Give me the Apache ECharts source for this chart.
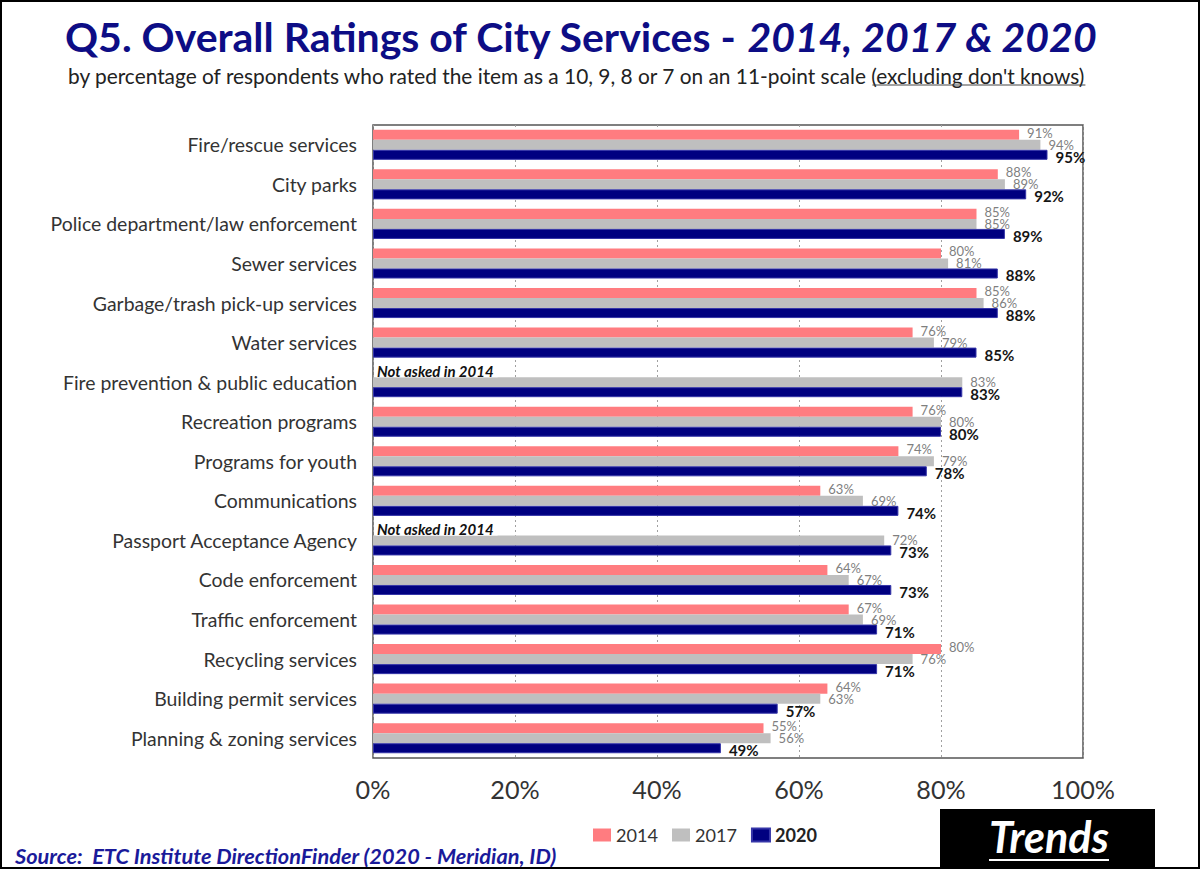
<!DOCTYPE html>
<html>
<head>
<meta charset="utf-8">
<script src="https://cdn.jsdelivr.net/npm/echarts@6/dist/echarts.min.js"></script>
<style>html,body{margin:0;padding:0;background:#fff;}#c{width:1204px;height:872px;}</style>
</head>
<body>
<div id="c"></div>
<script>
const categories = [
  'Fire/rescue services',
  'City parks',
  'Police department/law enforcement',
  'Sewer services',
  'Garbage/trash pick-up services',
  'Water services',
  'Fire prevention & public education',
  'Recreation programs',
  'Programs for youth',
  'Communications',
  'Passport Acceptance Agency',
  'Code enforcement',
  'Traffic enforcement',
  'Recycling services',
  'Building permit services',
  'Planning & zoning services'
];
const s2014 = [91, 88, 85, 80, 85, 76, null, 76, 74, 63, null, 64, 67, 80, 64, 55];
const s2017 = [94, 89, 85, 81, 86, 79, 83, 80, 79, 69, 72, 67, 69, 76, 63, 56];
const s2020 = [95, 92, 89, 88, 88, 85, 83, 80, 78, 74, 73, 73, 71, 71, 57, 49];
const seriesNames = ['2014', '2017', '2020'];
const xTicks = [0, 20, 40, 60, 80, 100];

const FAMILY = 'Lato, "Open Sans", sans-serif';
const mctx = document.createElement('canvas').getContext('2d');
function measure(text, weight, style, size) {
  mctx.font = style + ' ' + weight + ' ' + size + 'px ' + FAMILY;
  return mctx.measureText(text).width;
}
function fit(text, weight, style, width) {
  return 100 * width / measure(text, weight, style, 100);
}

const titleA = 'Q5. Overall Ratings of City Services - ';
const titleB = '2014, 2017 & 2020';
const titleSize = 100 * 1032 / (measure(titleA, 'bold', 'normal', 100) + measure(titleB, 'bold', 'italic', 100));
const subA = 'by percentage of respondents who rated the item as a 10, 9, 8 or 7 on an 11-point scale ';
const subB = "(excluding don't knows)";
const subSize = fit(subA + subB, 'normal', 'normal', 1018);
const subAW = measure(subA, 'normal', 'normal', subSize);
const subBW = measure(subB, 'normal', 'normal', subSize);
const catSize = fit('Police department/law enforcement', 'normal', 'normal', 307);
const tickSize = fit('100%', 'normal', 'normal', 64);
const legSize = fit('2014', 'normal', 'normal', 42);
const noteText = 'Not asked in 2014';
const noteSize = Math.min(15, fit(noteText, 'bold', 'italic', 128));
const srcText = 'Source:  ETC Institute DirectionFinder (2020 - Meridian, ID)';
const srcSize = fit(srcText, 'bold', 'italic', 542);
const trendSize = fit('Trends', 'bold', 'italic', 120);
const trendW = measure('Trends', 'bold', 'italic', trendSize);

const chart = echarts.init(document.getElementById('c'), null, {renderer: 'svg'});

function grayLabel(dy) {
  return {show: true, position: 'right', distance: 8, offset: [0, dy], formatter: '{c}%', color: '#7f7f7f', fontSize: 13, fontFamily: FAMILY};
}

const option = {
  backgroundColor: '#fff',
  animation: false,
  grid: {left: 373, top: 125, width: 710, height: 633, show: true, borderColor: '#555', borderWidth: 1.5, backgroundColor: '#fff', containLabel: false},
  xAxis: {
    type: 'value', min: xTicks[0], max: xTicks[xTicks.length - 1], interval: 20,
    axisLine: {show: false}, axisTick: {show: false},
    axisLabel: {formatter: '{value}%', fontSize: tickSize, color: '#333', margin: 18, fontFamily: FAMILY},
    splitLine: {show: true, lineStyle: {type: [2, 3], color: '#a0a0a0', width: 1}}
  },
  yAxis: {
    type: 'category', data: categories, inverse: true,
    axisLine: {show: false}, axisTick: {show: false},
    axisLabel: {fontSize: catSize, color: '#333', margin: 16, fontFamily: FAMILY}
  },
  legend: {
    data: seriesNames, left: 588, top: 821, icon: 'rect', itemWidth: 18, itemHeight: 13, itemGap: 14,
    textStyle: {fontSize: legSize, color: '#333', fontFamily: FAMILY, rich: {b: {fontWeight: 'bold', fontSize: legSize, color: '#222', fontFamily: FAMILY}}},
    formatter: function (n) { return n === '2020' ? '{b|' + n + '}' : n; }
  },
  series: [
    {name: seriesNames[0], type: 'bar', data: s2014, barGap: '0%', barCategoryGap: '24%', itemStyle: {color: '#FF7C80'}, label: grayLabel(-2)},
    {name: seriesNames[1], type: 'bar', data: s2017, barGap: '0%', barCategoryGap: '24%', itemStyle: {color: '#BFBFBF'}, label: grayLabel(0)},
    {name: seriesNames[2], type: 'bar', data: s2020, barGap: '0%', barCategoryGap: '24%', itemStyle: {color: '#000080', borderColor: '#3535a8', borderWidth: 1},
      label: {show: true, position: 'right', distance: 8, offset: [0, 2], formatter: '{c}%', color: '#151515', fontSize: 15, fontWeight: 'bold', fontFamily: FAMILY}}
  ],
  graphic: []
};
chart.setOption(option);

// Notes for categories not asked in 2014, placed at the 2014 bar slot
const bandH = 633 / categories.length;
const barH = bandH * 0.76 / 3;
const notes = [];
s2014.forEach(function (v, i) {
  if (v === null) {
    const p = chart.convertToPixel({gridIndex: 0}, [0, i]);
    notes.push({type: 'text', z: 100, style: {x: p[0] + 3, y: p[1] - barH - 1, text: noteText, fill: '#111', font: 'italic bold ' + noteSize.toFixed(2) + 'px ' + FAMILY, verticalAlign: 'middle', align: 'left', backgroundColor: '#fff', padding: [0, 4, 0, 1], lineHeight: 12}});
  }
});

chart.setOption({
  graphic: [
    {type: 'rect', z: 200, shape: {x: 1, y: 1, width: 1198, height: 867}, style: {fill: 'none', stroke: '#000', lineWidth: 2}},
    {type: 'text', z: 100, style: {x: 65, y: 36, text: '{a|' + titleA + '}{b|' + titleB + '}', verticalAlign: 'middle', align: 'left',
      rich: {a: {fontSize: titleSize, fontWeight: 'bold', fill: '#0d0d85', color: '#0d0d85', fontFamily: FAMILY},
             b: {fontSize: titleSize, fontWeight: 'bold', fontStyle: 'italic', fill: '#0d0d85', color: '#0d0d85', fontFamily: FAMILY}}}},
    {type: 'text', z: 100, style: {x: 68, y: 75, text: subA + subB, fill: '#222', font: 'normal ' + subSize.toFixed(2) + 'px ' + FAMILY, verticalAlign: 'middle', align: 'left'}},
    {type: 'line', z: 100, shape: {x1: 68 + subAW, y1: 85, x2: 68 + subAW + subBW, y2: 85}, style: {stroke: '#444', lineWidth: 1}},
    {type: 'text', z: 100, style: {x: 15, y: 856, text: srcText, fill: '#1a1a9a', font: 'italic bold ' + srcSize.toFixed(2) + 'px ' + FAMILY, verticalAlign: 'middle', align: 'left'}},
    {type: 'rect', z: 100, shape: {x: 940, y: 809, width: 215, height: 60}, style: {fill: '#000'}},
    {type: 'text', z: 101, style: {x: 1049, y: 836, text: 'Trends', fill: '#fff', font: 'italic bold ' + trendSize.toFixed(2) + 'px ' + FAMILY, verticalAlign: 'middle', align: 'center'}},
    {type: 'line', z: 101, shape: {x1: 1049 - trendW / 2, y1: 860, x2: 1049 + trendW / 2, y2: 860}, style: {stroke: '#fff', lineWidth: 2}}
  ].concat(notes)
});
</script>
</body>
</html>
